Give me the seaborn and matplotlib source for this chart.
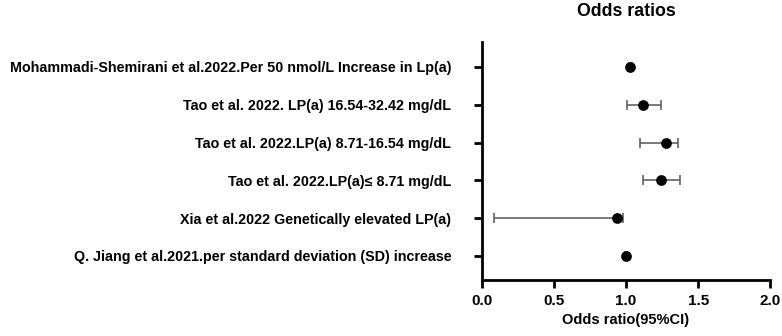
import matplotlib
matplotlib.use("Agg")
import matplotlib.pyplot as plt
import seaborn as sns
import numpy as np
import pandas as pd

studies = [
    "Mohammadi-Shemirani et al.2022.Per 50 nmol/L Increase in Lp(a)",
    "Tao et al. 2022. LP(a) 16.54-32.42 mg/dL",
    "Tao et al. 2022.LP(a) 8.71-16.54 mg/dL",
    "Tao et al. 2022.LP(a)\u2264 8.71 mg/dL",
    "Xia et al.2022 Genetically elevated LP(a)",
    "Q. Jiang et al.2021.per standard deviation (SD) increase",
]
odds_ratio = [1.03, 1.12, 1.275, 1.24, 0.94, 1.00]
ci_low = [1.02, 1.01, 1.10, 1.115, 0.085, 0.99]
ci_high = [1.04, 1.24, 1.36, 1.375, 0.98, 1.01]
x_ticks = [0.0, 0.5, 1.0, 1.5, 2.0]

sns.set_theme(style="ticks")
plt.rcParams['font.family'] = ['Liberation Sans', 'DejaVu Sans']
plt.rcParams['font.weight'] = 'bold'
plt.rcParams['text.color'] = 'black'
plt.rcParams['axes.labelcolor'] = 'black'

df = pd.DataFrame({
    "study": studies,
    "or": odds_ratio,
    "lo": ci_low,
    "hi": ci_high,
})
df["pos"] = np.arange(len(df))[::-1]

fig = plt.figure(figsize=(7.82, 3.36), dpi=100)
ax = fig.add_axes([0.616, 0.167, 0.369, 0.708])

# confidence intervals
ax.errorbar(df["or"], df["pos"],
            xerr=[df["or"] - df["lo"], df["hi"] - df["or"]],
            fmt="none", ecolor="#555555", elinewidth=1.1,
            capsize=3.5, capthick=1.1, zorder=2)
sns.scatterplot(data=df, x="or", y="pos", color="black", s=60,
                edgecolor="black", linewidth=0, ax=ax, zorder=3)

ax.set_xlim(0, 2.0)
ax.set_ylim(-0.635, 5.66)
ax.set_xticks(x_ticks)
ax.set_xticklabels([f"{t:.1f}" for t in x_ticks])
ax.set_yticks(df["pos"])
ax.set_yticklabels(df["study"])

sns.despine(ax=ax)
for side in ["left", "bottom"]:
    ax.spines[side].set_linewidth(2.0)
    ax.spines[side].set_color("black")
ax.tick_params(axis="both", length=6, width=2.0, color="black",
               labelcolor="black")
ax.tick_params(axis="y", pad=16, labelsize=10.3)
ax.tick_params(axis="x", pad=4, labelsize=11)
for lab in ax.get_xticklabels() + ax.get_yticklabels():
    lab.set_fontweight("bold")

ax.set_xlabel("Odds ratio(95%CI)", fontsize=10.5, fontweight="bold",
              labelpad=4, color="black")
ax.set_ylabel("")
ax.set_title("Odds ratios", fontsize=12.8, fontweight="bold", pad=19,
             color="black")

fig.savefig("out.png", dpi=100)
